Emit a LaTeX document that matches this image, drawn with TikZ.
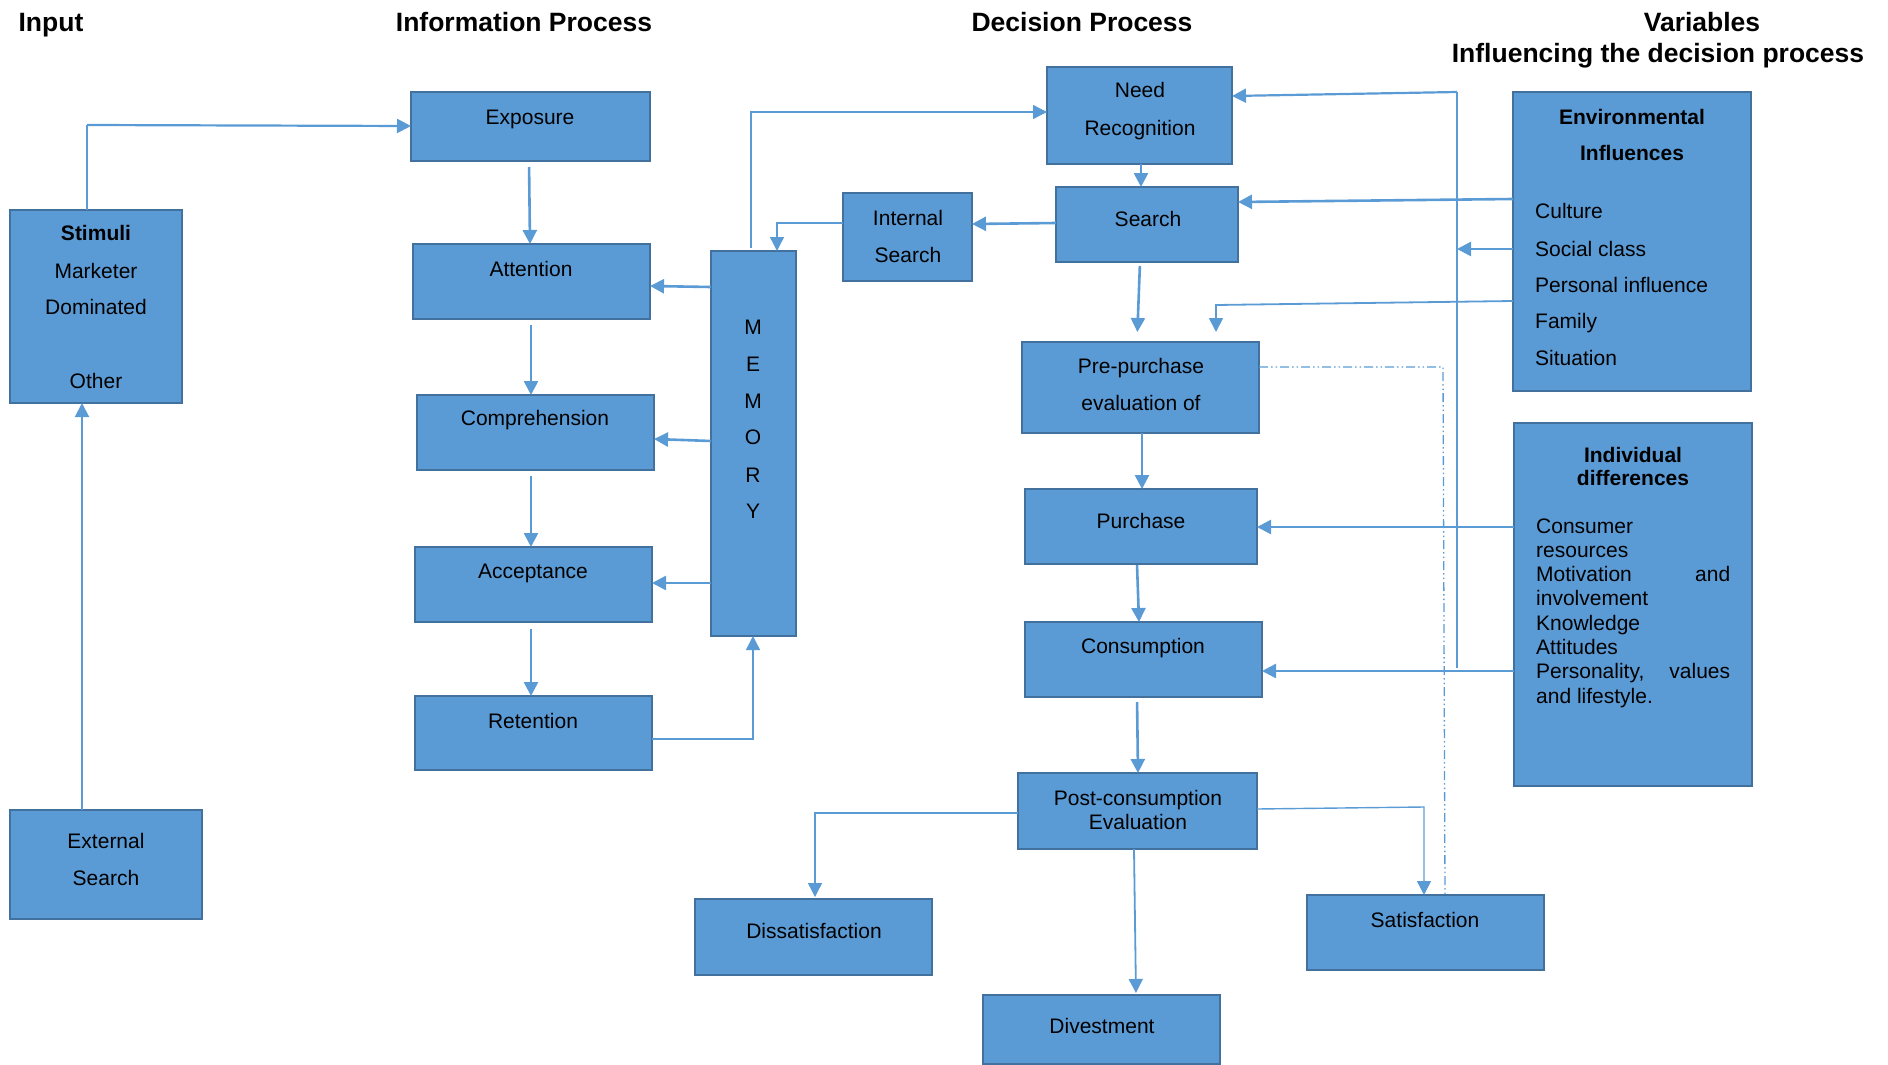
\documentclass[tikz,border=0pt]{standalone}
\usepackage{fontspec}
\setmainfont{Liberation Sans}
\usetikzlibrary{arrows.meta}
\definecolor{boxfill}{HTML}{5B9BD5}
\definecolor{boxedge}{HTML}{41719C}
\definecolor{wire}{HTML}{5B9BD5}

\tikzset{
  box/.style={draw=boxedge, fill=boxfill, line width=2.5pt, inner sep=0pt, outer sep=0pt, anchor=north west},
  txt/.style={anchor=base, inner sep=0pt, font=\fontsize{21}{25}\selectfont},
  ltxt/.style={txt, anchor=base west},
  head/.style={anchor=base, inner sep=0pt, font=\fontsize{26.5}{30}\selectfont\bfseries},
  flow/.style={draw=wire, line width=2.6pt, -{Triangle[length=14pt,width=14pt]}},
  slim/.style={draw=wire, line width=1.4pt, -{Triangle[length=14pt,width=14pt]}},
  dashdotline/.style={draw=wire, line width=1.3pt, dash pattern=on 9pt off 3pt on 1.5pt off 3pt on 1.5pt off 3pt},
}

\begin{document}
\begin{tikzpicture}[x=1pt,y=-1pt]
\useasboundingbox (0,0) rectangle (1888,1065);

% column headings
\node[head] (h-input) at (51,32) {Input};
\node[head] (h-info) at (524,32) {Information Process};
\node[head] (h-dec) at (1082,32) {Decision Process};
\node[head] (h-var) at (1702,32) {Variables};
\node[head] (h-infl) at (1658,63) {Influencing the decision process};

% input column
\node[box, minimum width=172pt, minimum height=193pt] (stim) at (10,210) {};
\node[txt] (t-stim1) at (96,240) {\bfseries Stimuli};
\node[txt] (t-stim2) at (96,278) {Marketer};
\node[txt] (t-stim3) at (96,314) {Dominated};
\node[txt] (t-stim4) at (96,388) {Other};

\node[box, minimum width=192pt, minimum height=109pt] (ext) at (10,810) {};
\node[txt] (t-ext1) at (106,848) {External};
\node[txt] (t-ext2) at (106,885) {Search};

% information process column
\node[box, minimum width=239pt, minimum height=69pt] (expo) at (411,92) {};
\node[txt] (t-expo) at (530,124) {Exposure};
\node[box, minimum width=237pt, minimum height=75pt] (atten) at (413,244) {};
\node[txt] (t-atten) at (531,276) {Attention};
\node[box, minimum width=237pt, minimum height=75pt] (compr) at (417,395) {};
\node[txt] (t-compr) at (535,425) {Comprehension};
\node[box, minimum width=237pt, minimum height=75pt] (accep) at (415,547) {};
\node[txt] (t-accep) at (533,578) {Acceptance};
\node[box, minimum width=237pt, minimum height=74pt] (reten) at (415,696) {};
\node[txt] (t-reten) at (533,728) {Retention};

\node[box, minimum width=85pt, minimum height=385pt] (memory) at (711,251) {};
\node[txt] (t-mem1) at (753,334) {M};
\node[txt] (t-mem2) at (753,371) {E};
\node[txt] (t-mem3) at (753,408) {M};
\node[txt] (t-mem4) at (753,444) {O};
\node[txt] (t-mem5) at (753,482) {R};
\node[txt] (t-mem6) at (753,518) {Y};

% decision process column
\node[box, minimum width=185pt, minimum height=97pt] (need) at (1047,67) {};
\node[txt] (t-need1) at (1140,98) {Need};
\node[txt] (t-need2) at (1140,135) {Recognition};
\node[box, minimum width=182pt, minimum height=75pt] (search) at (1056,187) {};
\node[txt] (t-search) at (1148,226) {Search};
\node[box, minimum width=129pt, minimum height=88pt] (intsearch) at (843,193) {};
\node[txt] (t-int1) at (908,225) {Internal};
\node[txt] (t-int2) at (908,262) {Search};
\node[box, minimum width=237pt, minimum height=91pt] (pre) at (1022,342) {};
\node[txt] (t-pre1) at (1141,373) {Pre-purchase};
\node[txt] (t-pre2) at (1141,410) {evaluation of};
\node[box, minimum width=232pt, minimum height=75pt] (purch) at (1025,489) {};
\node[txt] (t-purch) at (1141,528) {Purchase};
\node[box, minimum width=237pt, minimum height=75pt] (consum) at (1025,622) {};
\node[txt] (t-consum) at (1143,653) {Consumption};
\node[box, minimum width=239pt, minimum height=76pt] (post) at (1018,773) {};
\node[txt] (t-post1) at (1138,805) {Post-consumption};
\node[txt] (t-post2) at (1138,829) {Evaluation};
\node[box, minimum width=237pt, minimum height=76pt] (dissat) at (695,899) {};
\node[txt] (t-dissat) at (814,938) {Dissatisfaction};
\node[box, minimum width=237pt, minimum height=69pt] (divest) at (983,995) {};
\node[txt] (t-divest) at (1102,1033) {Divestment};
\node[box, minimum width=237pt, minimum height=75pt] (satis) at (1307,895) {};
\node[txt] (t-satis) at (1425,927) {Satisfaction};

% influencing variables
\node[box, minimum width=238pt, minimum height=299pt] (env) at (1513,92) {};
\node[txt] (t-env1) at (1632,124) {\bfseries Environmental};
\node[txt] (t-env2) at (1632,160) {\bfseries Influences};
\node[ltxt] (t-env3) at (1535,218) {Culture};
\node[ltxt] (t-env4) at (1535,256) {Social class};
\node[ltxt] (t-env5) at (1535,292) {Personal influence};
\node[ltxt] (t-env6) at (1535,328) {Family};
\node[ltxt] (t-env7) at (1535,365) {Situation};

\node[box, minimum width=238pt, minimum height=363pt] (indiv) at (1514,423) {};
\node[txt] (t-ind1) at (1633,462) {\bfseries Individual};
\node[txt] (t-ind2) at (1633,485) {\bfseries differences};
\node[ltxt] (t-ind3) at (1536,533) {Consumer};
\node[ltxt] (t-ind4) at (1536,557) {resources};
\node[ltxt] (t-ind5) at (1536,581) {\makebox[194pt]{Motivation\hfill and}};
\node[ltxt] (t-ind6) at (1536,605) {involvement};
\node[ltxt] (t-ind7) at (1536,630) {Knowledge};
\node[ltxt] (t-ind8) at (1536,654) {Attitudes};
\node[ltxt] (t-ind9) at (1536,678) {\makebox[194pt]{Personality,\hfill values}};
\node[ltxt] (t-ind10) at (1536,703) {and lifestyle.};

% junction line collecting the environmental influences
\coordinate (hubtop) at (1457,92);
\coordinate (hubbot) at (1457,668);

% input connectors
\draw[draw=wire, line width=1.4pt] (stim.north -| 87,0) -- (87,125);
\draw[draw=wire, line width=2.2pt, -{Triangle[length=14pt,width=14pt]}] (87,125) -- (expo.west |- 0,126);
\draw[flow, line width=2pt] (ext.north -| 82,0) -- (stim.south -| 82,0);

% information process chain
\draw[flow, shorten <=6pt] (expo.south -| 529,0) -- (atten.north -| 530,0);
\draw[flow, shorten <=6pt] (atten.south -| 531,0) -- (compr.north -| 531,0);
\draw[flow, shorten <=6pt] (compr.south -| 531,0) -- (accep.north -| 531,0);
\draw[flow, shorten <=7pt] (accep.south -| 531,0) -- (reten.north -| 531,0);

% memory links
\draw[flow] (memory.west |- 0,287) -- (atten.east |- 0,286);
\draw[flow] (memory.west |- 0,441) -- (compr.east |- 0,439);
\draw[flow] (memory.west |- 0,583) -- (accep.east |- 0,583);
\draw[slim] (reten.east |- 0,739) -- (753,739) -- (memory.south -| 753,0);
\draw[slim] (751,248) -- (751,112) -- (need.west |- 0,112);
\draw[slim] (intsearch.west |- 0,223) -- (777,223) -- (memory.north -| 777,0);

% decision process chain
\draw[flow] (need.south -| 1141,0) -- (search.north -| 1141,0);
\draw[flow] (search.west |- 0,223) -- (intsearch.east |- 0,224);
\draw[flow, shorten <=4pt, shorten >=10pt] (search.south -| 1140,0) -- (pre.north -| 1137,0);
\draw[flow] (pre.south -| 1142,0) -- (purch.north -| 1142,0);
\draw[flow, shorten <=1pt] (purch.south -| 1137,0) -- (consum.north -| 1139,0);
\draw[flow, shorten <=5pt] (consum.south -| 1137,0) -- (post.north -| 1138,0);
\draw[slim, shorten >=2pt] (post.west |- 0,813) -- (815,813) -- (dissat.north -| 815,0);
\draw[slim, line width=1.8pt, shorten >=2pt] (post.south -| 1134,0) -- (divest.north -| 1136,0);
\draw[slim] (post.east |- 0,809) -- (1424,807) -- (satis.north -| 1424,0);

% influences on the decision process
\draw[draw=wire, line width=1.4pt] (hubbot) -- (hubtop);
\draw[flow, line width=2.2pt] (hubtop) -- (need.east |- 0,96);
\draw[flow] (env.west |- 0,249) -- (hubtop |- 0,249);
\draw[flow] (env.west |- 0,199) -- (search.east |- 0,202);
\draw[flow, line width=1.8pt, shorten >=10pt] (env.west |- 0,301) -- (1216,305) -- (pre.north -| 1216,0);
\draw[flow] (indiv.west |- 0,527) -- (purch.east |- 0,527);
\draw[flow] (indiv.west |- 0,671) -- (consum.east |- 0,671);

% expectation link from evaluation to satisfaction
\draw[dashdotline] (pre.east |- 0,367) -- (1443,367) -- (satis.north -| 1445,0);

\end{tikzpicture}
\end{document}
